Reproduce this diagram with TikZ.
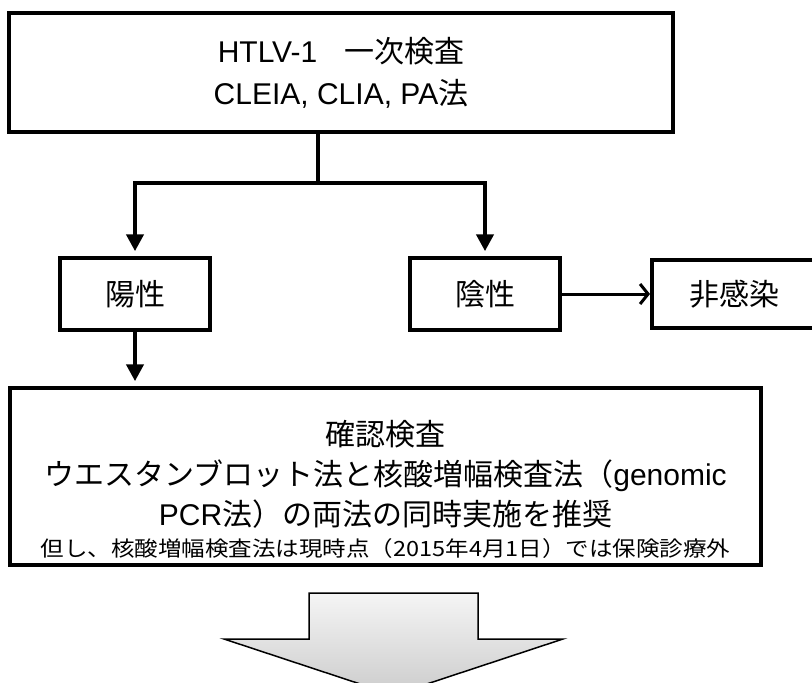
\documentclass[tikz,border=0pt]{standalone}
\usepackage{fontspec}
\usepackage{graphicx}
\setmainfont{Liberation Sans}
\newfontfamily\cjk{Noto Sans CJK JP}
\usetikzlibrary{arrows.meta}
\begin{document}
\begin{tikzpicture}[x=1pt,y=-1pt,
  box/.style={draw,line width=3.5pt,inner sep=0pt,align=center},
  bigtxt/.style={font=\fontsize{30}{42}\selectfont},
  thickarrow/.style={line width=4.5pt,-{Triangle[length=17pt,width=17pt]},shorten >=5pt},
  thinarrow/.style={line width=3pt,-{Straight Barb[length=8pt,width=20pt]}},
]
\useasboundingbox (0,0) rectangle (812,683);
\clip (0,0) rectangle (812,683);
\fill[white] (0,0) rectangle (812,683);

\node[box,minimum width=664pt,minimum height=119pt,bigtxt] (top) at (341,72.5)
  {HTLV-1\hspace{0.9em}{\cjk 一次検査}\\CLEIA, CLIA, PA{\cjk 法}};
\node[box,minimum width=150pt,minimum height=72pt,bigtxt] (pos) at (135,294) {\cjk 陽性};
\node[box,minimum width=150pt,minimum height=72pt,bigtxt] (neg) at (485,294) {\cjk 陰性};
\node[box,minimum width=165pt,minimum height=68pt,anchor=west,bigtxt] (non) at (650,294) {\cjk 非感染};
\node[box,minimum width=751pt,minimum height=177pt] (conf) at (385.5,476.5) {};
\node[align=center,font=\fontsize{30}{40}\selectfont] (conftext) at (385.5,489)
  {{\cjk 確認検査}\\
   {\cjk ウエスタンブロット法と核酸増幅検査法（}genomic\\
   PCR{\cjk 法）の両法の同時実施を推奨}\\[-9pt]
   \scalebox{1.12}[1]{\fontsize{21}{24}\selectfont\cjk 但し、核酸増幅検査法は現時点（2015年4月1日）では保険診療外}};

\coordinate (j) at (318,183);
\draw[line width=4.5pt] (j |- top.south) -- (j);
\draw[thickarrow] (j) -| (pos.north);
\draw[thickarrow] (j) -| (neg.north);
\draw[thickarrow] (pos.south) -- (conf.north -| pos.south);
\draw[thinarrow] (neg.east) -- (non.west);

\shade[top color=gray!8,bottom color=gray!40,draw=black,line width=1.5pt]
  (309,593) -- (478,593) -- (478,639) -- (563,639) -- (393.5,695)
  -- (224,639) -- (309,639) -- cycle;
\end{tikzpicture}
\end{document}
